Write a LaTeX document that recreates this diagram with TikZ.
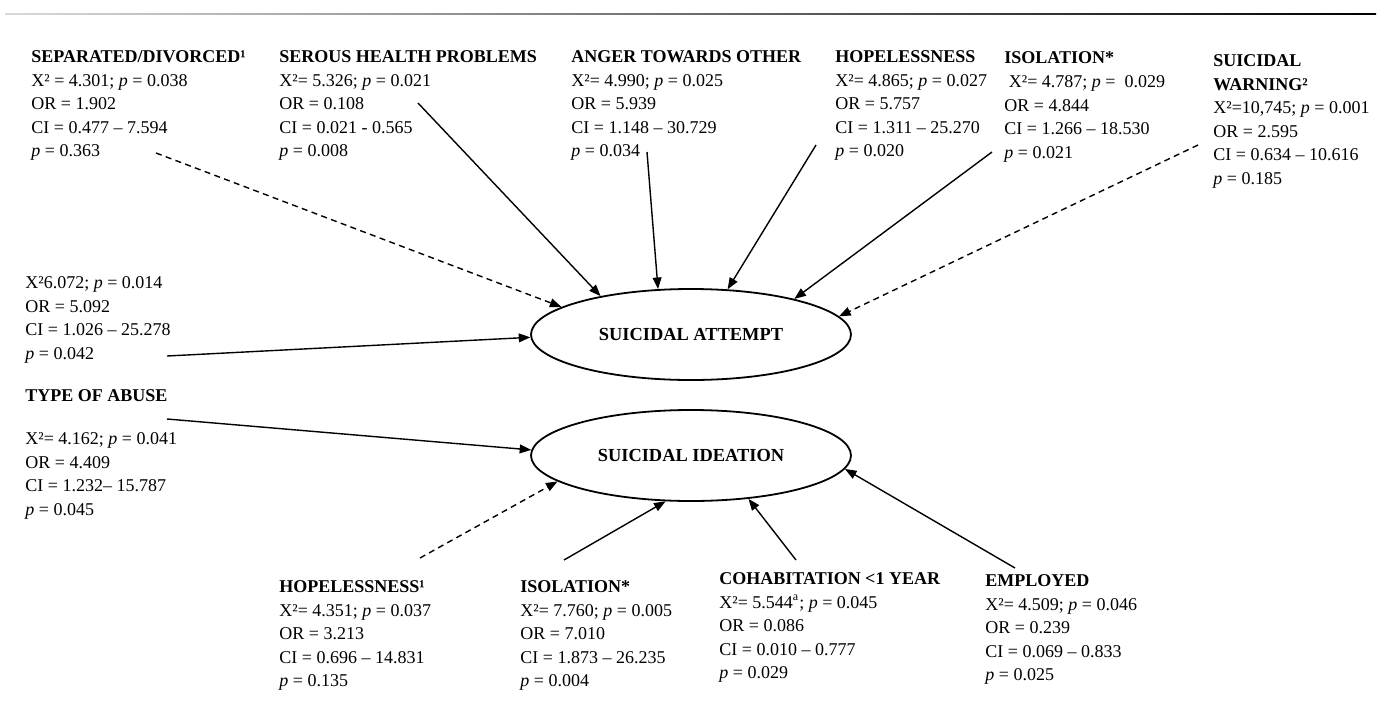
\documentclass[tikz,border=0pt]{standalone}
\usepackage{fontspec}
\setmainfont{Liberation Serif}
\usetikzlibrary{arrows.meta,shapes.geometric}
\newcommand{\Xsq}{X²}
\newcommand{\pv}{\textit{p}}
\tikzset{>={Triangle[length=5.8pt,width=4.4pt]},
  blk/.style={anchor=north west,inner sep=0pt,align=left,font=\fontsize{9}{11.8}\selectfont},
  outc/.style={ellipse,draw,line width=0.9pt,minimum width=160pt,minimum height=45.5pt,inner sep=0pt,font=\fontsize{9.2}{11.8}\selectfont\bfseries},
  arr/.style={->,line width=0.7pt},
  darr/.style={->,line width=0.7pt,dash pattern=on 3pt off 2.2pt}}

\begin{document}
\begin{tikzpicture}[x=0.5pt,y=-0.5pt]
\useasboundingbox (0,0) rectangle (1381,713);
\shade[left color=black!15,right color=black] (5,13.3) rectangle (1376,14.9);
% outcomes
\node[outc] (att) at (691,334.5) {SUICIDAL ATTEMPT};
\node[outc] (ide) at (691,455.5) {SUICIDAL IDEATION};
% predictors of attempt
\node[blk] (sep) at (31,45.5) {\strut\textbf{SEPARATED/DIVORCED¹}\\ \Xsq{} = 4.301; \pv{} = 0.038\\ OR = 1.902\\ CI = 0.477 -- 7.594\\ \pv{} = 0.363};
\node[blk] (ser) at (279,45.5) {\strut\textbf{SEROUS HEALTH PROBLEMS}\\ \Xsq= 5.326; \pv{} = 0.021\\ OR = 0.108\\ CI = 0.021 - 0.565\\ \pv{} = 0.008};
\node[blk] (ang) at (571,45.5) {\strut\textbf{ANGER TOWARDS OTHER}\\ \Xsq= 4.990; \pv{} = 0.025\\ OR = 5.939\\ CI = 1.148 -- 30.729\\ \pv{} = 0.034};
\node[blk] (hop) at (835,45.5) {\strut\textbf{HOPELESSNESS}\\ \Xsq= 4.865; \pv{} = 0.027\\ OR = 5.757\\ CI = 1.311 -- 25.270\\ \pv{} = 0.020};
\node[blk] (iso) at (1004,47) {\strut\textbf{ISOLATION*}\\ \hspace{0.25em}\Xsq= 4.787; \pv{} = \ 0.029\\ OR = 4.844\\ CI = 1.266 -- 18.530\\ \pv{} = 0.021};
\node[blk] (war) at (1213,49.5) {\strut\textbf{SUICIDAL}\\ \textbf{WARNING²}\\ \Xsq=10,745; \pv{} = 0.001\\ OR = 2.595\\ CI = 0.634 -- 10.616\\ \pv{} = 0.185};
% type of abuse
\node[blk] (typeAtt) at (25,271.5) {\strut\Xsq6.072; \pv{} = 0.014\\ OR = 5.092\\ CI = 1.026 -- 25.278\\ \pv{} = 0.042};
\node[blk] (typeHead) at (25,384.5) {\strut\textbf{TYPE OF ABUSE}};
\node[blk] (typeIde) at (25,427.5) {\strut\Xsq= 4.162; \pv{} = 0.041\\ OR = 4.409\\ CI = 1.232-- 15.787\\ \pv{} = 0.045};
% predictors of ideation
\node[blk] (hop1) at (279,575.5) {\strut\textbf{HOPELESSNESS¹}\\ \Xsq= 4.351; \pv{} = 0.037\\ OR = 3.213\\ CI = 0.696 -- 14.831\\ \pv{} = 0.135};
\node[blk] (iso2) at (520,575.5) {\strut\textbf{ISOLATION*}\\ \Xsq= 7.760; \pv{} = 0.005\\ OR = 7.010\\ CI = 1.873 -- 26.235\\ \pv{} = 0.004};
\node[blk] (coh) at (719,567.5) {\strut\textbf{COHABITATION <1 YEAR}\\ \Xsq= 5.544\textsuperscript{a}; \pv{} = 0.045\\ OR = 0.086\\ CI = 0.010 -- 0.777\\ \pv{} = 0.029};
\node[blk] (emp) at (985,569.5) {\strut\textbf{EMPLOYED}\\ \Xsq= 4.509; \pv{} = 0.046\\ OR = 0.239\\ CI = 0.069 -- 0.833\\ \pv{} = 0.025};
% arrow tails
\coordinate (sepOut) at (156,153);
\coordinate (serOut) at (418,103);
\coordinate (angOut) at (647,152);
\coordinate (hopOut) at (816,145);
\coordinate (isoOut) at (992,152);
\coordinate (warOut) at (1198,145);
\coordinate (typeAOut) at (167,356);
\coordinate (typeHOut) at (167,419);
\coordinate (hop1Out) at (420,558);
\coordinate (iso2Out) at (564,560);
\coordinate (cohOut) at (796,560);
\coordinate (empOut) at (1015,568);
% connectors
\foreach \s/\a in {serOut/157,angOut/126,hopOut/51,isoOut/19,typeAOut/181}
  \draw[arr] (\s) -- (att.\a);
\foreach \s/\a in {sepOut/168,warOut/7}
  \draw[darr] (\s) -- (att.\a);
\foreach \s/\a in {typeHOut/178,iso2Out/241,cohOut/323,empOut/355}
  \draw[arr] (\s) -- (ide.\a);
\draw[darr] (hop1Out) -- (ide.191);
\end{tikzpicture}
\end{document}
